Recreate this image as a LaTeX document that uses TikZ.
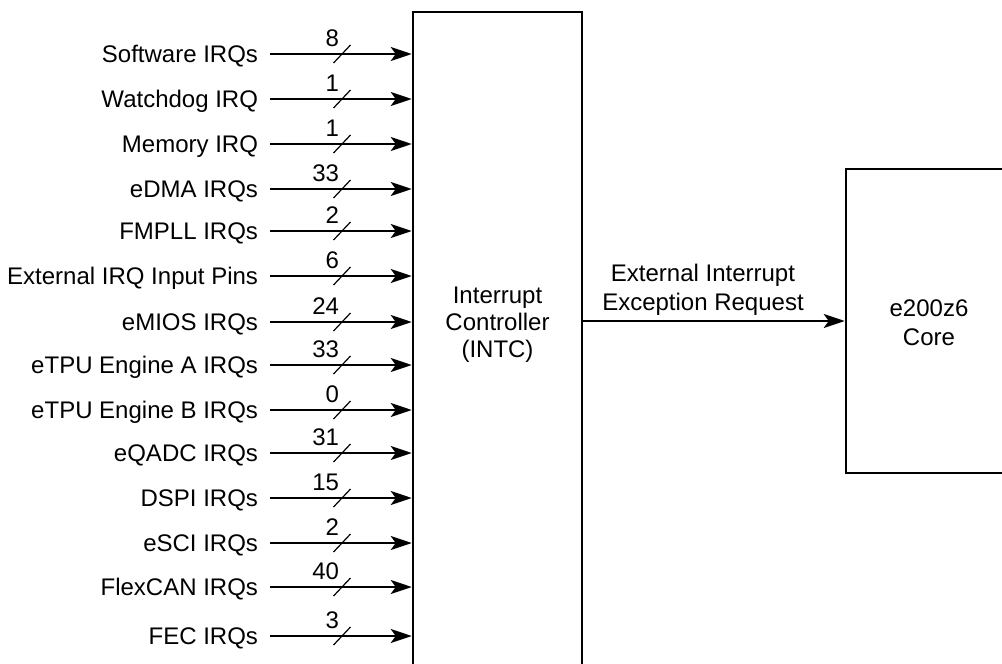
\documentclass[tikz,border=0pt]{standalone}
\usepackage{fontspec}
\setmainfont{Liberation Sans}
\usetikzlibrary{arrows.meta}
\begin{document}
\begin{tikzpicture}[x=1pt,y=-1pt,
  txt/.style={font=\fontsize{24}{28}\selectfont, inner sep=0pt, outer sep=0pt},
  lbl/.style={txt, anchor=east, text height=17pt, text depth=0pt},
  num/.style={txt, anchor=base east},
  ctr/.style={txt, anchor=base},
  blk/.style={draw, line width=2.5pt, inner sep=0pt},
  sig/.style={line width=2.3pt, -{Stealth[length=21pt,width=14pt,inset=5pt]}},
  slashln/.style={line width=1.2pt}]
\useasboundingbox (0,0) rectangle (1002,664);
\fill[white] (0,0) rectangle (1002,664);
% Interrupt controller box (runs past the bottom edge)
\node[blk, minimum width=169pt, minimum height=688pt] (intc) at (497.5,356) {};
\node[ctr] (intc1) at (497.5,303) {Interrupt};
\node[ctr] (intc2) at (497.5,330) {Controller};
\node[ctr] (intc3) at (497.5,357) {(INTC)};
% Core box (runs past the right edge)
\node[blk, minimum width=174pt, minimum height=304pt] (core) at (933,321) {};
\node[ctr] (core1) at (929,316) {e200z6};
\node[ctr] (core2) at (929,345) {Core};
% Output request
\draw[sig] (intc.east |- core.west) -- (core.west);
\node[ctr] (out1) at (703,281) {External Interrupt};
\node[ctr] (out2) at (703,310) {Exception Request};
% Inputs
\foreach \y/\t/\n [count=\i] in {54/Software IRQs/8, 99/Watchdog IRQ/1, 144/Memory IRQ/1,
  189/eDMA IRQs/33, 231/FMPLL IRQs/2, 276/External IRQ Input Pins/6, 322/eMIOS IRQs/24,
  365/eTPU Engine A IRQs/33, 410/eTPU Engine B IRQs/0, 453/eQADC IRQs/31, 498/DSPI IRQs/15,
  543/eSCI IRQs/2, 587/FlexCAN IRQs/40, 636/FEC IRQs/3}
{
  \node[lbl] (in\i) at (258,\y) {\t};
  \draw[sig] ([xshift=12pt]in\i.east) -- (in\i.east -| intc.west);
  \draw[slashln] (333.5,{\y+9}) -- (350.5,{\y-9});
  \node[num] (n\i) at (339,{\y-8}) {\n};
}
\end{tikzpicture}
\end{document}
